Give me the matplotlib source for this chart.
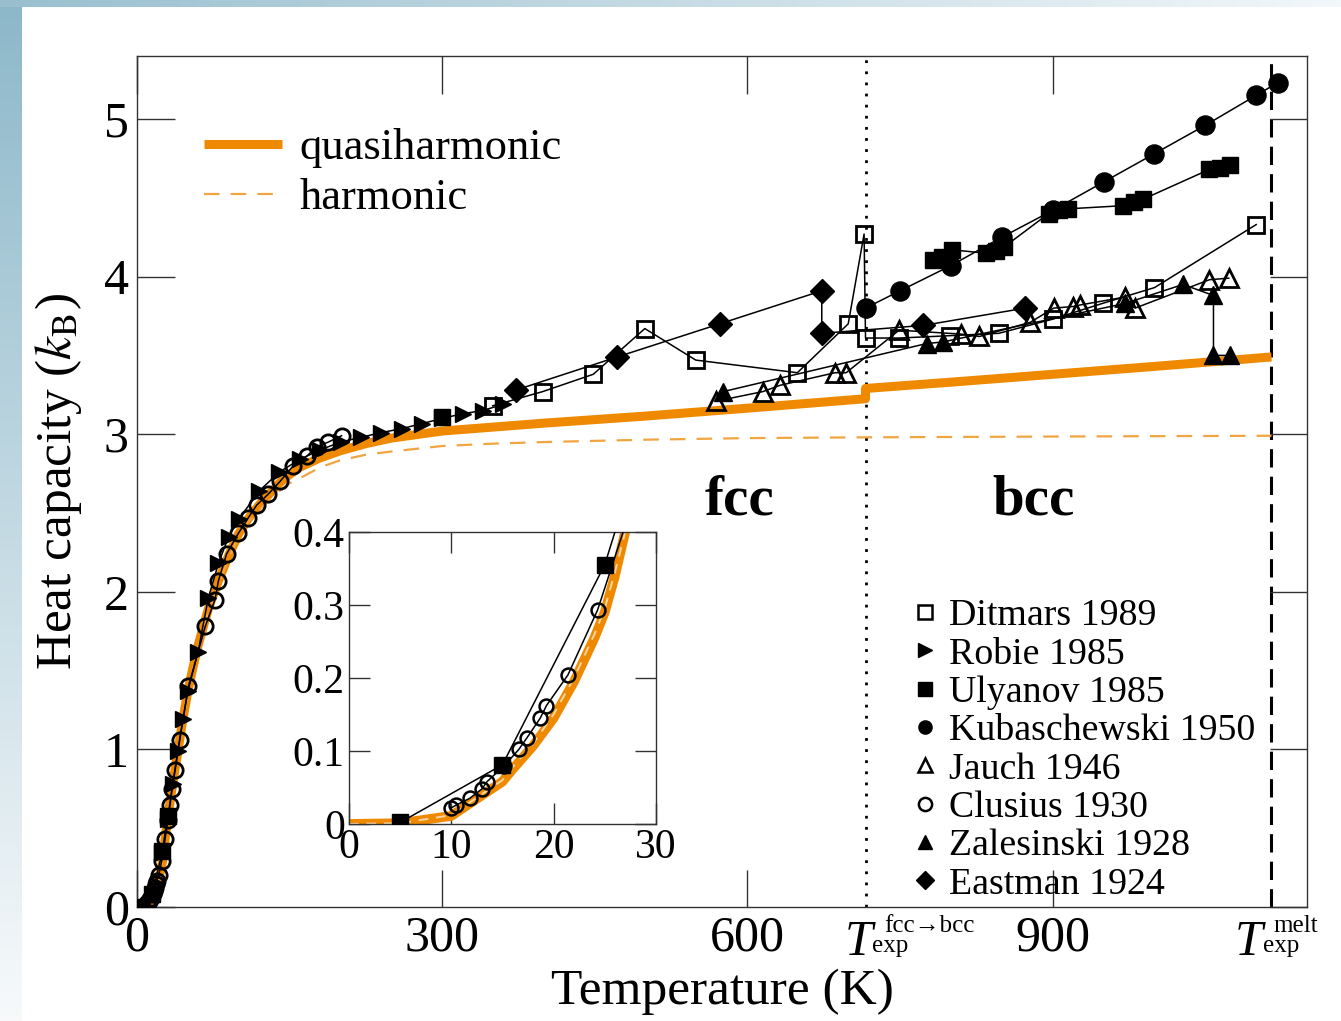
import numpy as np
import matplotlib
matplotlib.use('Agg')
import matplotlib.pyplot as plt
from matplotlib.lines import Line2D

plt.rcParams['font.family'] = ['Liberation Serif', 'DejaVu Serif']
plt.rcParams['mathtext.fontset'] = 'stix'

# ---------------- data ----------------
qh_T = [0, 5, 10, 15, 16, 18, 20, 22, 24, 25, 26, 27, 30, 35, 40, 45, 50, 55, 60, 70, 80, 90, 100, 110, 120,
        140, 150, 160, 180, 200, 225, 250, 300, 350, 400, 500, 600, 716, 716, 800, 900, 1000, 1115]
qh_C = [0, 0.001, 0.011, 0.058, 0.075, 0.107, 0.145, 0.195, 0.255, 0.29, 0.34, 0.40, 0.56, 0.78, 0.98,
        1.19, 1.37, 1.52, 1.66, 1.89, 2.07, 2.23, 2.37, 2.47, 2.55, 2.69, 2.745, 2.79, 2.85, 2.895, 2.94,
        2.975, 3.02, 3.045, 3.07, 3.115, 3.165, 3.225, 3.29, 3.33, 3.38, 3.43, 3.49]

h_T = [0, 5, 10, 15, 16, 18, 20, 22, 24, 25, 26, 27, 30, 35, 40, 45, 50, 55, 60, 70, 80, 90, 100, 110, 120,
       140, 150, 160, 180, 200, 225, 250, 300, 350, 400, 500, 600, 716, 900, 1115]
h_C = [0, 0.001, 0.012, 0.06, 0.078, 0.11, 0.15, 0.20, 0.26, 0.295, 0.345, 0.40, 0.56, 0.78, 0.98, 1.18,
       1.36, 1.51, 1.65, 1.87, 2.05, 2.21, 2.35, 2.45, 2.52, 2.64, 2.69, 2.72, 2.79, 2.835, 2.87, 2.89,
       2.925, 2.94, 2.95, 2.965, 2.975, 2.98, 2.985, 2.99]

ditmars_T = [349.5, 398.6, 448.4, 499.1, 549.2, 649, 699, 714.6, 716, 749, 799, 847, 900, 949, 1000, 1100]
ditmars_C = [3.18, 3.27, 3.38, 3.67, 3.47, 3.39, 3.70, 4.27, 3.61, 3.61, 3.625, 3.64, 3.73, 3.83, 3.93, 4.33]

robie_T = [25, 30, 35, 40, 45, 50, 60, 70, 80, 90, 100, 120, 140, 160, 180, 200, 220, 240, 260, 280, 300, 320, 340, 360]
robie_C = [0.34, 0.56, 0.78, 0.99, 1.19, 1.37, 1.62, 1.96, 2.18, 2.35, 2.46, 2.64, 2.76, 2.84, 2.90, 2.95,
           2.98, 3.01, 3.035, 3.067, 3.10, 3.13, 3.15, 3.19]

ulyanov_T = [5, 15, 25, 30, np.nan, 300, np.nan, 782.7, 790.8, 800.8, 834.9, 843.9, 851.8,
             896, 906.4, 915.3, 969.5, 979.7, 988.5, 1054, 1064, 1074]
ulyanov_C = [0.002, 0.081, 0.355, 0.58, np.nan, 3.107, np.nan, 4.106, 4.127, 4.17, 4.148,
             4.165, 4.186, 4.40, 4.42, 4.43, 4.45, 4.475, 4.49, 4.68, 4.69, 4.71]

kuba_T = [716, 750, 800, 850, 900, 950, 1000, 1050, 1100, 1121]
kuba_C = [3.80, 3.91, 4.07, 4.25, 4.42, 4.60, 4.78, 4.96, 5.15, 5.23]

jauch_T = [569.5, 615, 632, 686, 697, 749, 810, 828, 878, 901, 920, 927, 971, 981, 1054, 1073]
jauch_C = [3.21, 3.27, 3.31, 3.39, 3.39, 3.66, 3.635, 3.62, 3.71, 3.80, 3.81, 3.82, 3.87, 3.80, 3.98, 3.99]

clusius_T = [10.0, 10.5, 11.8, 13.0, 13.5, 15.2, 16.6, 17.4, 18.7, 19.3, 21.4, 24.3, 27.5, 30.5, 32.5,
             34.5, 37.5, 42, 50.5, 67, 76.6, 80, 88, 99.5, 109.4, 117.6, 129, 140.5, 153.6, 166.7,
             176.5, 188, 201]
clusius_C = [0.022, 0.026, 0.035, 0.048, 0.058, 0.080, 0.102, 0.118, 0.145, 0.162, 0.204, 0.293, 0.43,
             0.55, 0.65, 0.75, 0.87, 1.06, 1.40, 1.78, 1.95, 2.07, 2.24, 2.37, 2.47, 2.55, 2.62, 2.70,
             2.80, 2.86, 2.92, 2.95, 2.99]

zal_T = [576, 776, 792, 971.5, 1028, 1058, 1058, 1074]
zal_C = [3.27, 3.575, 3.585, 3.83, 3.95, 3.88, 3.50, 3.50]

east_T = [372.4, 471.9, 572.7, 673, 673, 772.7, 873]
east_C = [3.28, 3.49, 3.70, 3.91, 3.64, 3.69, 3.80]

T_trans = 716
T_melt = 1115

legend_labels = ['Ditmars 1989', 'Robie 1985', 'Ulyanov 1985', 'Kubaschewski 1950',
                 'Jauch 1946', 'Clusius 1930', 'Zalesinski 1928', 'Eastman 1924']

ORANGE = '#EF8A00'
ORANGE_D = '#F0A540'

W, H = 1341, 1021

# ---------------- figure ----------------
fig = plt.figure(figsize=(W / 100, H / 100), dpi=100)

# decorative slide background (left and top gradient strips)
bg = fig.add_axes([0, 0, 1, 1], zorder=-10)
img = np.ones((H, W, 3))
rows = np.linspace(0, 1, H)[:, None]
left_col = np.array([0.55, 0.72, 0.79]) * (1 - rows) + np.array([0.97, 0.98, 0.985]) * rows
img[:, :22, :] = left_col[:, None, :]
cols = np.linspace(0, 1, W)[:, None]
top_row = np.array([0.60, 0.75, 0.81]) * (1 - cols) + np.array([0.95, 0.97, 0.98]) * cols
img[:8, :, :] = top_row[None, :, :]
bg.imshow(img, aspect='auto', extent=[0, 1, 0, 1])
bg.axis('off')

ax = fig.add_axes([0.1022, 0.1117, 0.8725, 0.8335])

ax.plot(qh_T, qh_C, color=ORANGE, lw=6.5, solid_capstyle='butt', zorder=2)
ax.plot(h_T, h_C, color=ORANGE_D, lw=1.6, dashes=(7, 5), zorder=2)

ax.axvline(T_trans, color='k', lw=2.0, ls=(0, (1, 3)), zorder=1)
ax.axvline(T_melt, color='k', lw=2.2, ls=(0, (6, 3)), zorder=1)

lkw = dict(color='k', lw=1.1, zorder=3)
ms = 11
mew = 2.0
ax.plot(ditmars_T, ditmars_C, marker='s', ms=ms, mfc='none', mec='k', mew=mew, **lkw)
ax.plot(robie_T, robie_C, marker='>', ms=ms * 1.1, mfc='k', mec='k', **lkw)
ax.plot(ulyanov_T, ulyanov_C, marker='s', ms=ms, mfc='k', mec='k', **lkw)
ax.plot(kuba_T, kuba_C, marker='o', ms=ms * 1.25, mfc='k', mec='k', **lkw)
ax.plot(jauch_T, jauch_C, marker='^', ms=ms * 1.15, mfc='none', mec='k', mew=mew, **lkw)
ax.plot(clusius_T, clusius_C, marker='o', ms=ms * 1.0, mfc='none', mec='k', mew=mew, **lkw)
ax.plot(zal_T, zal_C, marker='^', ms=ms * 1.15, mfc='k', mec='k', **lkw)
ax.plot(east_T, east_C, marker='D', ms=ms * 1.1, mfc='k', mec='k', **lkw)

ax.set_xlim(0, 1150)
ax.set_ylim(0, 5.4)
ax.set_xticks([0, 300, 600, 900])
ax.set_xticklabels(['0', '300', '600', '900'])
ax.set_yticks([0, 1, 2, 3, 4, 5])
ax.tick_params(direction='in', length=27, width=1.0, top=True, right=True,
               labelsize=36, pad=6, color='#333333')
for s in ax.spines.values():
    s.set_linewidth(1.0)
    s.set_color('#333333')

ax.set_xlabel('Temperature (K)', fontsize=37, labelpad=5)
ax.set_ylabel(r'Heat capacity ($k_{\rm B}$)', fontsize=37, labelpad=14)

# special temperature labels below the axis (T with super/subscripts)
def fpos(px, py):
    return px / W, 1 - py / H

tkw = dict(ha='left', va='baseline')
fig.text(*fpos(845, 955), 'T', fontsize=36, style='italic', **tkw)
fig.text(*fpos(884, 932), 'fcc\u2192bcc', fontsize=18, **tkw)
fig.text(*fpos(872, 952), 'exp', fontsize=18, **tkw)
fig.text(*fpos(1235, 955), 'T', fontsize=36, style='italic', **tkw)
fig.text(*fpos(1273, 932), 'melt', fontsize=18, **tkw)
fig.text(*fpos(1263, 952), 'exp', fontsize=18, **tkw)

ax.text(592, 2.58, 'fcc', fontsize=41, fontweight='bold', ha='center', va='center')
ax.text(881, 2.58, 'bcc', fontsize=41, fontweight='bold', ha='center', va='center')

# legend 1
h1 = [Line2D([], [], color=ORANGE, lw=6.5, solid_capstyle='butt'),
      Line2D([], [], color=ORANGE_D, lw=1.6, dashes=(7, 5))]
leg1 = ax.legend(h1, ['quasiharmonic', 'harmonic'], loc='upper left',
                 bbox_to_anchor=(0.057, 0.915), frameon=False, fontsize=32,
                 handlelength=1.75, handletextpad=0.4, labelspacing=0.22,
                 borderpad=0, borderaxespad=0)
ax.add_artist(leg1)

# legend 2
mkw = dict(color='k', ls='None', ms=9.5)
h2 = [Line2D([], [], marker='s', mfc='none', mec='k', mew=1.8, **mkw),
      Line2D([], [], marker='>', mfc='k', **mkw),
      Line2D([], [], marker='s', mfc='k', **mkw),
      Line2D([], [], marker='o', mfc='k', **mkw),
      Line2D([], [], marker='^', mfc='none', mec='k', mew=1.8, **mkw),
      Line2D([], [], marker='o', mfc='none', mec='k', mew=1.8, **mkw),
      Line2D([], [], marker='^', mfc='k', **mkw),
      Line2D([], [], marker='D', mfc='k', **mkw)]
ax.legend(h2, legend_labels, loc='upper left', bbox_to_anchor=(0.6605, 0.362),
          frameon=False, fontsize=27.3, handlelength=0.8, handletextpad=0.22,
          labelspacing=0.1, borderpad=0, borderaxespad=0)

# ---------------- inset ----------------
ins = fig.add_axes([0.2602, 0.1930, 0.2289, 0.2860])
ins.plot(qh_T, qh_C, color=ORANGE, lw=7, solid_capstyle='butt', zorder=2)
ins.plot(h_T, h_C, color='#F7D6A6', lw=1.4, dashes=(5, 4), zorder=2)
ins.plot(clusius_T, clusius_C, marker='o', ms=10, mfc='none', mec='k', mew=1.8, **lkw)
ins.plot(ulyanov_T, ulyanov_C, marker='s', ms=11, mfc='k', mec='k', **lkw)
ins.set_xlim(0, 30)
ins.set_ylim(0, 0.4)
ins.set_xticks([0, 10, 20, 30])
ins.set_yticks([0, 0.1, 0.2, 0.3, 0.4])
ins.set_xticklabels(['0', '10', '20', '30'])
ins.set_yticklabels(['0', '0.1', '0.2', '0.3', '0.4'])
ins.tick_params(direction='in', length=15, width=1.0, top=True, right=True,
                labelsize=30, pad=3, color='#333333')
for s in ins.spines.values():
    s.set_linewidth(1.0)
    s.set_color('#333333')

fig.savefig('out.png', dpi=100)
